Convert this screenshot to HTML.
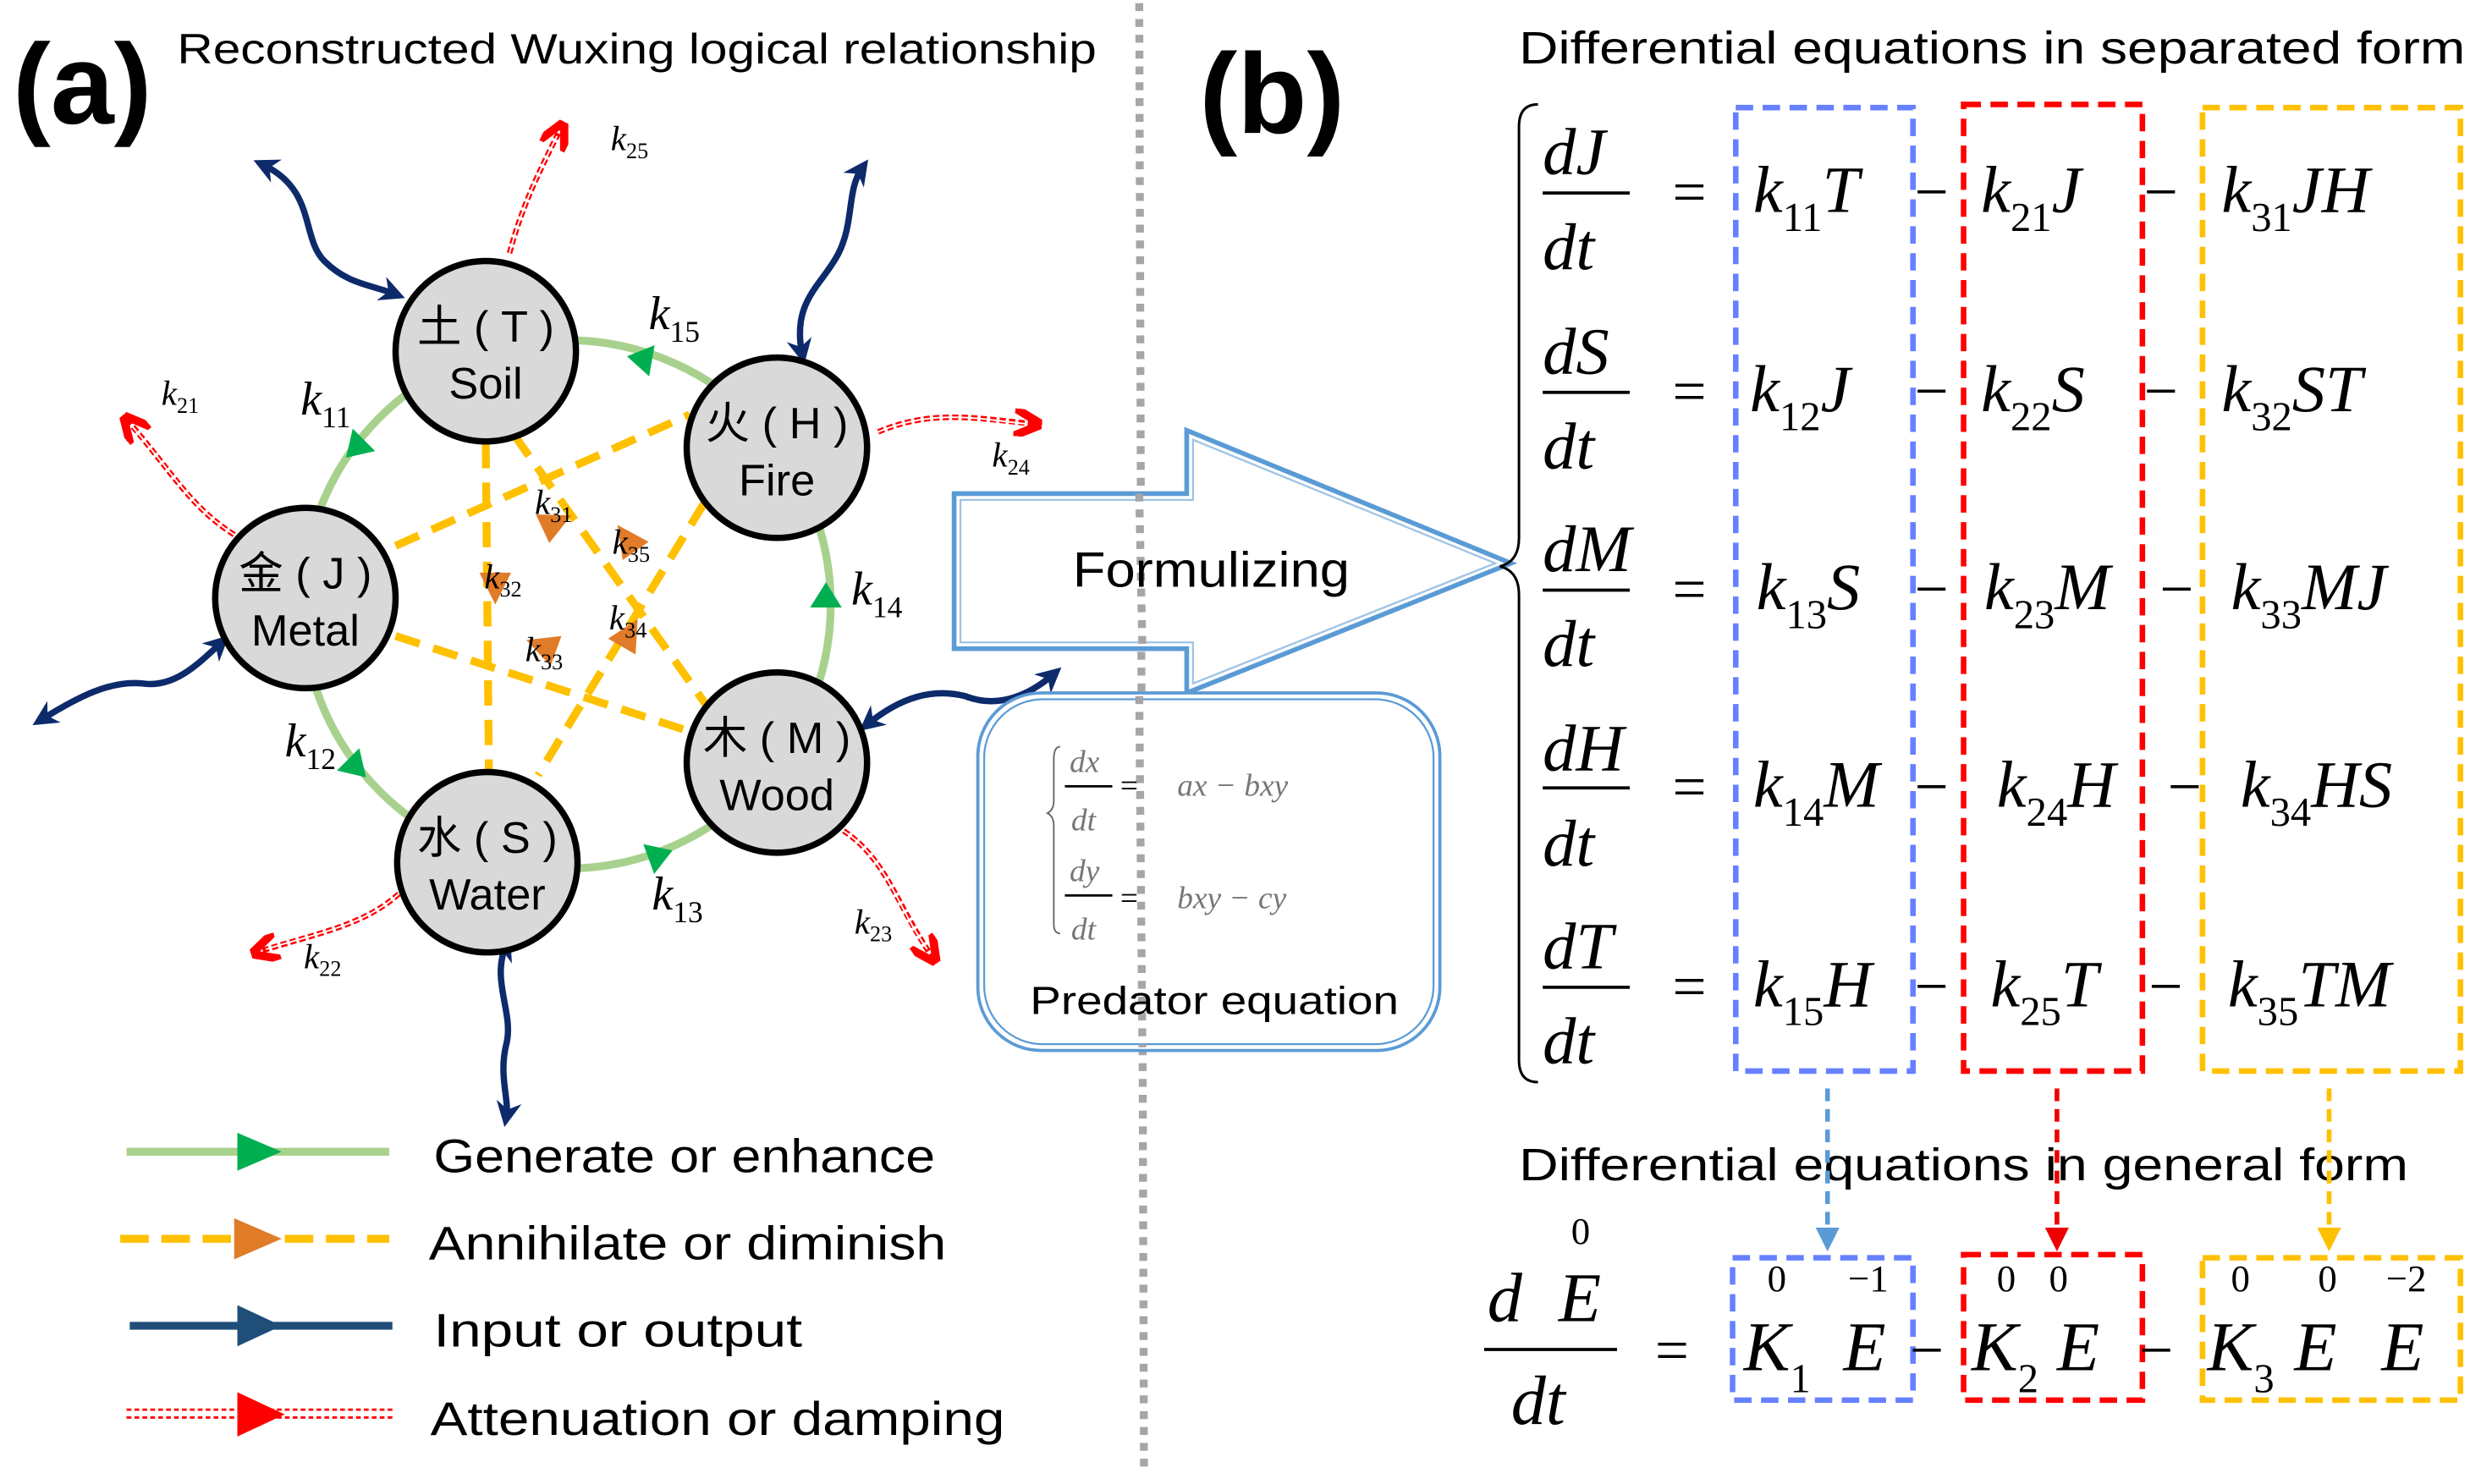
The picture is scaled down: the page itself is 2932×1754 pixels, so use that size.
<!DOCTYPE html>
<html><head><meta charset="utf-8"><style>
html,body{margin:0;padding:0;background:#fff;}
svg{display:block;}
.s{font-family:"Liberation Sans","Noto Sans CJK SC",sans-serif;}
.m{font-family:"Liberation Serif",serif;font-style:italic;}
.u{font-style:normal;}
</style></head><body>
<svg width="2932" height="1754" viewBox="0 0 1568 938" xmlns="http://www.w3.org/2000/svg">
<defs>
<marker id="nv" viewBox="0 0 10 10" refX="6" refY="5" markerWidth="4" markerHeight="4" orient="auto-start-reverse"><path d="M0,0 L10,5 L0,10 L3,5z" fill="#0d2a6b"/></marker>
<marker id="rd" viewBox="0 0 10 10" refX="8" refY="5" markerWidth="5" markerHeight="5" orient="auto"><path d="M0,0 L10,5 L0,10" fill="none" stroke="#f00" stroke-width="3"/></marker>
<marker id="ba" viewBox="0 0 10 10" refX="8" refY="5" markerWidth="5" markerHeight="5" orient="auto"><path d="M0,0 L10,5 L0,10z" fill="#5b9bd5"/></marker>
<marker id="ra" viewBox="0 0 10 10" refX="8" refY="5" markerWidth="5" markerHeight="5" orient="auto"><path d="M0,0 L10,5 L0,10z" fill="#e00"/></marker>
<marker id="ya" viewBox="0 0 10 10" refX="8" refY="5" markerWidth="5" markerHeight="5" orient="auto"><path d="M0,0 L10,5 L0,10z" fill="#ffc000"/></marker>
</defs>

<line x1="720" y1="2" x2="723" y2="930" stroke="#a6a6a6" stroke-width="5" stroke-dasharray="5,5"/>

<text x="8" y="78" class="s" font-size="72" font-weight="bold">(a)</text>
<text x="112" y="40" class="s" font-size="27" textLength="581" lengthAdjust="spacingAndGlyphs">Reconstructed Wuxing logical relationship</text>
<text x="758" y="84" class="s" font-size="72" font-weight="bold">(b)</text>
<text x="960" y="40" class="s" font-size="29" textLength="598" lengthAdjust="spacingAndGlyphs">Differential equations in separated form</text>

<circle cx="358" cy="382" r="167" fill="none" stroke="#a9d18e" stroke-width="5"/>
<g fill="#00b050">
<polygon points="0,-10 0,10 16,0" transform="translate(230,278) rotate(135)"/>
<polygon points="0,-10 0,10 16,0" transform="translate(220,480) rotate(45)"/>
<polygon points="0,-10 0,10 16,0" transform="translate(410,543) rotate(-20)"/>
<polygon points="0,-10 0,10 16,0" transform="translate(522,384) rotate(-90)"/>
<polygon points="0,-10 0,10 16,0" transform="translate(412,228) rotate(190)"/>
</g>

<g stroke="#ffc000" stroke-width="5" stroke-dasharray="16,9" fill="none">
<line x1="307" y1="280" x2="309" y2="488"/>
<line x1="325" y1="275" x2="458" y2="462"/>
<line x1="250" y1="345" x2="436" y2="262"/>
<line x1="250" y1="402" x2="435" y2="462"/>
<line x1="445" y1="318" x2="340" y2="490"/>
</g>
<g fill="#e07b28">
<polygon points="-10,-10 10,0 -10,10" transform="translate(352,330) rotate(-25)"/>
<polygon points="-10,-10 10,0 -10,10" transform="translate(313,372) rotate(90)"/>
<polygon points="-10,-10 10,0 -10,10" transform="translate(342,408) rotate(200)"/>
<polygon points="-10,-10 10,0 -10,10" transform="translate(398,400) rotate(-60)"/>
<polygon points="-10,-10 10,0 -10,10" transform="translate(396,340) rotate(235)"/>
</g>

<g stroke="#0d2a6b" stroke-width="4" fill="none" marker-start="url(#nv)" marker-end="url(#nv)">
<path d="M166,104 C200,120 190,150 205,165 C220,180 235,180 250,186"/>
<path d="M507,224 C500,190 520,180 530,160 C540,140 535,120 545,106"/>
<path d="M26,455 C50,440 70,430 90,432 C110,435 125,420 140,406"/>
<path d="M320,597 C310,620 325,640 320,660 C315,680 322,695 320,706"/>
<path d="M548,458 C570,440 590,435 610,440 C630,448 650,440 666,426"/>
</g>

<g stroke="#f00" stroke-width="3.5" stroke-dasharray="4,2" fill="none" marker-end="url(#rd)">
<path d="M322,160 C330,130 340,110 355,80"/>
<path d="M148,338 C120,320 110,300 80,265"/>
<path d="M555,273 C590,258 620,265 655,268"/>
<path d="M252,565 C230,585 200,590 162,602"/>
<path d="M528,522 C560,540 565,570 590,606"/>
</g>
<g stroke="#fff" stroke-width="1" fill="none">
<path d="M322,160 C330,130 340,110 352,86"/>
<path d="M148,338 C120,320 110,300 84,270"/>
<path d="M555,273 C590,258 620,265 649,268"/>
<path d="M252,565 C230,585 200,590 168,600"/>
<path d="M528,522 C560,540 565,570 586,600"/>
</g>

<g fill="#d9d9d9" stroke="#000" stroke-width="4">
<circle cx="307" cy="222" r="57"/><circle cx="491" cy="283" r="57"/>
<circle cx="193" cy="378" r="57"/><circle cx="491" cy="482" r="57"/>
<circle cx="308" cy="545" r="57"/>
</g>
<g class="s" font-size="28" text-anchor="middle">
<text x="307" y="216">土 ( T )</text><text x="307" y="252">Soil</text>
<text x="491" y="277">火 ( H )</text><text x="491" y="313">Fire</text>
<text x="193" y="372">金 ( J )</text><text x="193" y="408">Metal</text>
<text x="491" y="476">木 ( M )</text><text x="491" y="512">Wood</text>
<text x="308" y="539">水 ( S )</text><text x="308" y="575">Water</text>
</g>

<g class="m" font-size="30">
<text x="190" y="262">k<tspan class="u" font-size="19" dy="8">11</tspan></text>
<text x="180" y="478">k<tspan class="u" font-size="19" dy="8">12</tspan></text>
<text x="412" y="575">k<tspan class="u" font-size="19" dy="8">13</tspan></text>
<text x="538" y="382">k<tspan class="u" font-size="19" dy="8">14</tspan></text>
<text x="410" y="208">k<tspan class="u" font-size="19" dy="8">15</tspan></text>
</g>
<g class="m" font-size="22">
<text x="102" y="256">k<tspan class="u" font-size="14" dy="5">21</tspan></text>
<text x="192" y="612">k<tspan class="u" font-size="14" dy="5">22</tspan></text>
<text x="540" y="590">k<tspan class="u" font-size="14" dy="5">23</tspan></text>
<text x="627" y="295">k<tspan class="u" font-size="14" dy="5">24</tspan></text>
<text x="386" y="95">k<tspan class="u" font-size="14" dy="5">25</tspan></text>
<text x="338" y="325">k<tspan class="u" font-size="14" dy="5">31</tspan></text>
<text x="306" y="372">k<tspan class="u" font-size="14" dy="5">32</tspan></text>
<text x="332" y="418">k<tspan class="u" font-size="14" dy="5">33</tspan></text>
<text x="385" y="398">k<tspan class="u" font-size="14" dy="5">34</tspan></text>
<text x="387" y="350">k<tspan class="u" font-size="14" dy="5">35</tspan></text>
</g>

<line x1="80" y1="728" x2="246" y2="728" stroke="#a9d18e" stroke-width="5"/>
<polygon points="150,716 150,740 178,728" fill="#00b050"/>
<line x1="76" y1="783" x2="246" y2="783" stroke="#ffc000" stroke-width="5" stroke-dasharray="18,8"/>
<polygon points="148,770 148,796 178,783" fill="#e07b28"/>
<line x1="82" y1="838" x2="248" y2="838" stroke="#1f4e79" stroke-width="5"/>
<polygon points="150,825 150,851 178,838" fill="#1f4e79"/>
<line x1="80" y1="891" x2="250" y2="891" stroke="#f00" stroke-width="1.5" stroke-dasharray="3,2"/>
<line x1="80" y1="896" x2="250" y2="896" stroke="#f00" stroke-width="1.5" stroke-dasharray="3,2"/>
<polygon points="150,880 150,908 180,894" fill="#f00"/>
<g class="s" font-size="30" lengthAdjust="spacingAndGlyphs">
<text x="274" y="741" textLength="317" lengthAdjust="spacingAndGlyphs">Generate or enhance</text>
<text x="271" y="796" textLength="327" lengthAdjust="spacingAndGlyphs">Annihilate or diminish</text>
<text x="274" y="851" textLength="233" lengthAdjust="spacingAndGlyphs">Input or output</text>
<text x="272" y="907" textLength="363" lengthAdjust="spacingAndGlyphs">Attenuation or damping</text>
</g>

<path d="M603,312 L750,312 L750,272 L955,356 L750,438 L750,410 L603,410 Z" fill="#fff" stroke="#5b9bd5" stroke-width="3"/>
<path d="M607,316 L754,316 L754,278 L945,356 L754,432 L754,406 L607,406 Z" fill="none" stroke="#9dc3e6" stroke-width="1.2"/>
<line x1="720" y1="312" x2="722" y2="410" stroke="#a6a6a6" stroke-width="5" stroke-dasharray="5,5"/>
<text x="678" y="371" class="s" font-size="31" textLength="175" lengthAdjust="spacingAndGlyphs">Formulizing</text>

<rect x="618" y="438" width="292" height="226" rx="40" fill="#fff" stroke="#5b9bd5" stroke-width="2"/>
<rect x="622" y="442" width="284" height="218" rx="37" fill="none" stroke="#5b9bd5" stroke-width="1.2"/>
<line x1="720" y1="440" x2="722" y2="662" stroke="#a6a6a6" stroke-width="5" stroke-dasharray="5,5"/>
<g font-family="Liberation Serif,serif" font-style="italic" font-size="20" fill="#777">
<path d="M670,472 Q666,472 666,480 L666,506 Q666,512 662,514 Q666,516 666,522 L666,584 Q666,590 670,590" fill="none" stroke="#666" stroke-width="1"/>
<text x="676" y="488">dx</text><line x1="673" y1="497" x2="703" y2="497" stroke="#000" stroke-width="1.5"/><text x="677" y="525">dt</text>
<text x="708" y="503" fill="#000" font-style="normal">=</text><text x="744" y="503">ax − bxy</text>
<text x="676" y="557">dy</text><line x1="673" y1="566" x2="703" y2="566" stroke="#000" stroke-width="1.5"/><text x="677" y="594">dt</text>
<text x="708" y="574" fill="#000" font-style="normal">=</text><text x="744" y="574">bxy − cy</text>
</g>
<text x="651" y="641" class="s" font-size="25" textLength="233" lengthAdjust="spacingAndGlyphs">Predator equation</text>

<path d="M972,66 Q960,66 960,80 L960,340 Q960,355 948,358 Q960,361 960,376 L960,670 Q960,684 972,684" fill="none" stroke="#000" stroke-width="1.6"/>

<rect x="1097" y="68" width="112" height="609" fill="none" stroke="#6680ff" stroke-width="3.5" stroke-dasharray="11,6"/>
<rect x="1241" y="66" width="113" height="611" fill="none" stroke="#f00" stroke-width="3.5" stroke-dasharray="11,6"/>
<rect x="1392" y="68" width="163" height="609" fill="none" stroke="#ffc000" stroke-width="3.5" stroke-dasharray="11,6"/>

<g class="m" font-size="42">
<text x="975" y="110">dJ</text><text x="975" y="170">dt</text>
<text x="975" y="236">dS</text><text x="975" y="296">dt</text>
<text x="975" y="361">dM</text><text x="975" y="421">dt</text>
<text x="975" y="487">dH</text><text x="975" y="547">dt</text>
<text x="975" y="612">dT</text><text x="975" y="672">dt</text>
</g>
<g stroke="#000" stroke-width="2">
<line x1="975" y1="122" x2="1030" y2="122"/><line x1="975" y1="248" x2="1030" y2="248"/>
<line x1="975" y1="373" x2="1030" y2="373"/><line x1="975" y1="498" x2="1030" y2="498"/>
<line x1="975" y1="624" x2="1030" y2="624"/>
</g>
<g font-family="Liberation Serif,serif" font-size="38">
<text x="1057" y="134">=</text><text x="1057" y="260">=</text><text x="1057" y="385">=</text><text x="1057" y="510">=</text><text x="1057" y="636">=</text>
<text x="1210" y="134">−</text><text x="1210" y="260">−</text><text x="1210" y="385">−</text><text x="1210" y="510">−</text><text x="1210" y="636">−</text>
<text x="1355" y="134">−</text><text x="1355" y="260">−</text><text x="1365" y="385">−</text><text x="1370" y="510">−</text><text x="1358" y="636">−</text>
</g>
<g class="m" font-size="42">
<text x="1108" y="134">k<tspan class="u" font-size="26" dy="12">11</tspan><tspan dy="-12">T</tspan></text>
<text x="1106" y="260">k<tspan class="u" font-size="26" dy="12">12</tspan><tspan dy="-12">J</tspan></text>
<text x="1110" y="385">k<tspan class="u" font-size="26" dy="12">13</tspan><tspan dy="-12">S</tspan></text>
<text x="1108" y="510">k<tspan class="u" font-size="26" dy="12">14</tspan><tspan dy="-12">M</tspan></text>
<text x="1108" y="636">k<tspan class="u" font-size="26" dy="12">15</tspan><tspan dy="-12">H</tspan></text>
<text x="1252" y="134">k<tspan class="u" font-size="26" dy="12">21</tspan><tspan dy="-12">J</tspan></text>
<text x="1252" y="260">k<tspan class="u" font-size="26" dy="12">22</tspan><tspan dy="-12">S</tspan></text>
<text x="1254" y="385">k<tspan class="u" font-size="26" dy="12">23</tspan><tspan dy="-12">M</tspan></text>
<text x="1262" y="510">k<tspan class="u" font-size="26" dy="12">24</tspan><tspan dy="-12">H</tspan></text>
<text x="1258" y="636">k<tspan class="u" font-size="26" dy="12">25</tspan><tspan dy="-12">T</tspan></text>
<text x="1404" y="134">k<tspan class="u" font-size="26" dy="12">31</tspan><tspan dy="-12">JH</tspan></text>
<text x="1404" y="260">k<tspan class="u" font-size="26" dy="12">32</tspan><tspan dy="-12">ST</tspan></text>
<text x="1410" y="385">k<tspan class="u" font-size="26" dy="12">33</tspan><tspan dy="-12">MJ</tspan></text>
<text x="1416" y="510">k<tspan class="u" font-size="26" dy="12">34</tspan><tspan dy="-12">HS</tspan></text>
<text x="1408" y="636">k<tspan class="u" font-size="26" dy="12">35</tspan><tspan dy="-12">TM</tspan></text>
</g>

<text x="960" y="746" class="s" font-size="29" textLength="562" lengthAdjust="spacingAndGlyphs">Differential equations in general form</text>
<g stroke-width="3" stroke-dasharray="8,5">
<line x1="1155" y1="688" x2="1155" y2="788" stroke="#5b9bd5" marker-end="url(#ba)"/>
<line x1="1300" y1="688" x2="1300" y2="788" stroke="#e00" marker-end="url(#ra)"/>
<line x1="1472" y1="688" x2="1472" y2="788" stroke="#ffc000" marker-end="url(#ya)"/>
</g>
<rect x="1095" y="795" width="114" height="90" fill="none" stroke="#6680ff" stroke-width="3.5" stroke-dasharray="11,6"/>
<rect x="1241" y="793" width="113" height="92" fill="none" stroke="#f00" stroke-width="3.5" stroke-dasharray="11,6"/>
<rect x="1392" y="795" width="163" height="90" fill="none" stroke="#ffc000" stroke-width="3.5" stroke-dasharray="11,6"/>

<g font-family="Liberation Serif,serif" font-size="24">
<text x="993" y="786">0</text>
<text x="1117" y="816">0</text><text x="1168" y="816">−1</text>
<text x="1262" y="816">0</text><text x="1295" y="816">0</text>
<text x="1410" y="816">0</text><text x="1465" y="816">0</text><text x="1508" y="816">−2</text>
</g>
<g class="m" font-size="44">
<text x="940" y="835">d</text><text x="985" y="835">E</text>
<text x="955" y="900">dt</text>
<text x="1102" y="866">K<tspan class="u" font-size="26" dy="14">1</tspan></text><text x="1165" y="866">E</text>
<text x="1246" y="866">K<tspan class="u" font-size="26" dy="14">2</tspan></text><text x="1300" y="866">E</text>
<text x="1395" y="866">K<tspan class="u" font-size="26" dy="14">3</tspan></text><text x="1450" y="866">E</text><text x="1505" y="866">E</text>
</g>
<line x1="938" y1="853" x2="1022" y2="853" stroke="#000" stroke-width="2"/>
<g font-family="Liberation Serif,serif" font-size="38">
<text x="1046" y="866">=</text><text x="1207" y="866">−</text><text x="1352" y="866">−</text>
</g>
</svg>
</body></html>
